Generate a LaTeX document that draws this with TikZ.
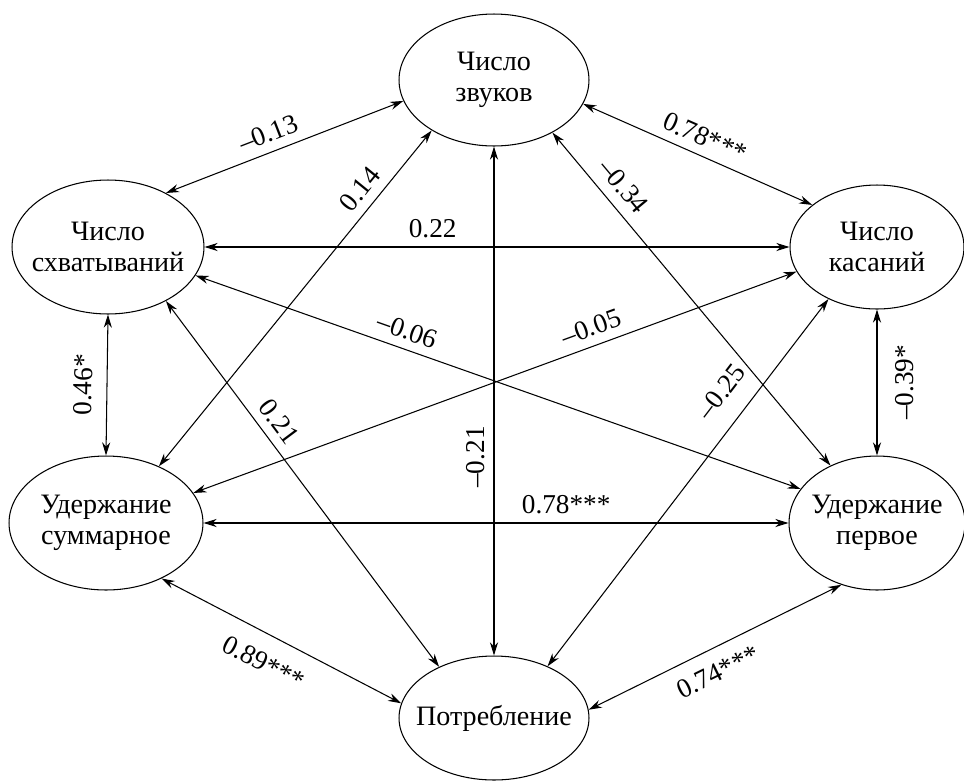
\documentclass[tikz,border=0pt]{standalone}
\usepackage{fontspec}
\setmainfont{Liberation Serif}
\usetikzlibrary{shapes.geometric, arrows.meta}

\begin{document}
\begin{tikzpicture}[x=0.02cm, y=-0.02cm,
    var/.style={draw, ellipse, inner sep=0pt, line width=0.6pt},
    vartext/.style={align=center, inner sep=0pt, font=\fontsize{16}{17.4}\selectfont},
    link/.style={{Stealth[length=7.5pt,width=4.6pt]}-{Stealth[length=7.5pt,width=4.6pt]},
        line width=0.6pt},
    val/.style={sloped, inner sep=5pt, font=\fontsize{15.5}{17}\selectfont}]
\useasboundingbox (0,0) rectangle (964,782);

% Variables
\node[var, minimum width=3.8cm, minimum height=2.64cm,
    label={[vartext]center:{Число\\звуков}}] (zv) at (494,80) {};
\node[var, minimum width=3.84cm, minimum height=2.68cm,
    label={[vartext]center:{Число\\схватываний}}] (sx) at (108,247) {};
\node[var, minimum width=3.48cm, minimum height=2.48cm,
    label={[vartext]center:{Число\\касаний}}] (ks) at (877,247) {};
\node[var, minimum width=3.88cm, minimum height=2.68cm,
    label={[vartext]center:{Удержание\\суммарное}}] (us) at (106,523) {};
\node[var, minimum width=3.52cm, minimum height=2.68cm,
    label={[vartext]center:{Удержание\\первое}}] (up) at (877,523) {};
\node[var, minimum width=3.8cm, minimum height=2.48cm,
    label={[vartext]center:{Потребление}}] (pt) at (494,718) {};

% Correlations
\draw[link] (sx.43) -- node[val, pos=0.46, above] {–0.13} (zv.193);
\draw[link] (zv.345) -- node[val, pos=0.5, above] {0.78***} (ks.147);
\draw[link] (sx.east) -- node[val, pos=0.39, above] {0.22} (ks.west);
\draw[link] (us.47) -- node[val, pos=0.79, above] {0.14} (zv.219);
\draw[link] (sx.317) -- node[val, pos=0.36, above] {0.21} (pt.137);
\draw[link] (pt.north) -- node[val, pos=0.39, above] {–0.21} (zv.south);
\draw[link] (zv.318) -- node[val, pos=0.2, above=1pt] {–0.34} (up.129);
\draw[link] (sx.342) -- node[val, pos=0.34, above] {–0.06} (up.156);
\draw[link] (us.19) -- node[val, pos=0.67, above] {–0.05} (ks.197);
\draw[link] (pt.44) -- node[val, pos=0.7, above=6pt] {–0.25} (ks.227);
\draw[link] (us.north) -- node[val, pos=0.5, above=3pt] {0.46*} (sx.south);
\draw[link] (up.north) -- node[val, pos=0.5, below=5pt] {–0.39*} (ks.south);
\draw[link] (us.east) -- node[val, pos=0.62, above] {0.78***} (up.west);
\draw[link] (us.315) -- node[val, pos=0.48, below=5pt] {0.89***} (pt.171);
\draw[link] (pt.5) -- node[val, pos=0.47, below=3pt] {0.74***} (up.240);
\end{tikzpicture}
\end{document}
